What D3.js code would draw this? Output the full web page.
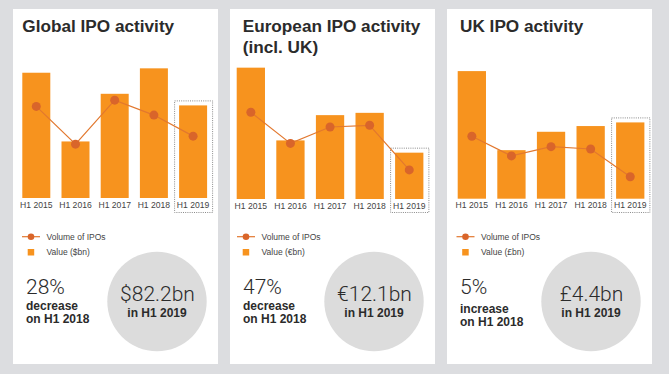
<!DOCTYPE html>
<html><head><meta charset="utf-8">
<script src="https://cdn.jsdelivr.net/npm/d3@7"></script>
<style>
html,body{margin:0;padding:0;background:#dcdde0;}
svg{display:block;}
</style></head>
<body>
<svg id="c" width="669" height="374"></svg>
<script>
// ---- data ----
const periods = ["H1 2015","H1 2016","H1 2017","H1 2018","H1 2019"];
const globalValue = [111.2, 50.2, 92.5, 115.1, 82.2];     // $bn
const globalVolume = [730, 429, 780, 661, 493];           // number of IPOs
const europeValue = [34.3, 15.3, 21.9, 22.5, 12.1];       // €bn
const europeVolume = [206, 132, 171, 175, 69];
const ukValue = [7.36, 2.8, 3.86, 4.19, 4.4];             // £bn
const ukVolume = [54, 37, 45, 43, 19];
const titles = [["Global IPO activity"], ["European IPO activity","(incl. UK)"], ["UK IPO activity"]];
const valueLabels = ["Value ($bn)", "Value (€bn)", "Value (£bn)"];
const changePct = ["28%", "47%", "5%"];
const changeWord = ["decrease", "decrease", "increase"];
const headline = ["$82.2bn", "€12.1bn", "£4.4bn"];

const panels = [
  {value: globalValue, volume: globalVolume, vMax: 122.5, volMax: 1100},
  {value: europeValue, volume: europeVolume, vMax: 36.3, volMax: 330},
  {value: ukValue, volume: ukVolume, vMax: 8.0, volMax: 120}
];
// layout
const layout = [
  {px: 13, bx0: 22.3, step: 39.2, base: 198, titleX: 22.3, legX: 22, textDy: 0},
  {px: 230, bx0: 236.7, step: 39.6, base: 199, titleX: 242.7, legX: 237, textDy: 0},
  {px: 447, bx0: 457.7, step: 39.6, base: 198.7, titleX: 460, legX: 456.5, textDy: 3}
];
const BAR = "#f7931e", LINE = "#e2782f", DOT = "#d9652a", TXT = "#2b2b2b", LBL = "#444";
const SANS = "Liberation Sans, Arial, sans-serif";
const svg = d3.select("#c");
svg.append("rect").attr("width",669).attr("height",374).attr("fill","#dcdde0");

panels.forEach((p, i) => {
  const L = layout[i];
  const g = svg.append("g");
  g.append("rect").attr("x", L.px).attr("y", 9).attr("width", 205).attr("height", 355).attr("fill", "#fff");
  // title
  titles[i].forEach((t, k) => {
    g.append("text").attr("x", L.titleX).attr("y", 32.3 + k*21)
      .attr("font-family", SANS).attr("font-weight", "bold")
      .attr("font-size", 17.2).attr("fill", TXT).text(t);
  });
  const pad = 0.2857;
  const x = d3.scaleBand().domain(periods)
    .range([L.bx0, L.bx0 + L.step*(periods.length - pad)]).paddingInner(pad).paddingOuter(0);
  const y = d3.scaleLinear().domain([0, p.vMax]).range([L.base, 60]);
  const yv = d3.scaleLinear().domain([0, p.volMax]).range([L.base, 60]);
  const bw = x.bandwidth();
  // highlight box around last period
  const last = periods[periods.length-1];
  const lastVal = p.value[p.value.length-1];
  g.append("rect").attr("x", x(last) - 4.5).attr("y", y(lastVal) - 4.5)
    .attr("width", bw + 10).attr("height", 212.5 - (y(lastVal) - 4.5))
    .attr("fill", "none").attr("stroke", "#8a8a8a").attr("stroke-width", 1).attr("stroke-dasharray", "1,1.2");
  g.selectAll(".bar").data(p.value).enter().append("rect")
    .attr("x", (d, j) => x(periods[j])).attr("width", bw)
    .attr("y", d => y(d)).attr("height", d => L.base - y(d)).attr("fill", BAR);
  // axis labels
  const ax = g.append("g").attr("transform", `translate(0,${L.base})`)
    .call(d3.axisBottom(x).tickSize(0).tickPadding(3.5));
  ax.select(".domain").remove();
  ax.selectAll("text").attr("font-family", SANS).attr("font-size", 8.6).attr("fill", LBL);
  // line
  const line = d3.line().x((d, j) => x(periods[j]) + bw/2).y(d => yv(d));
  g.append("path").datum(p.volume).attr("d", line).attr("fill", "none").attr("stroke", LINE).attr("stroke-width", 1.2);
  g.selectAll(".dot").data(p.volume).enter().append("circle")
    .attr("cx", (d, j) => x(periods[j]) + bw/2).attr("cy", d => yv(d)).attr("r", 4.5).attr("fill", DOT);
  // legend
  const lx = L.legX;
  g.append("line").attr("x1", lx).attr("x2", lx + 18).attr("y1", 236.7).attr("y2", 236.7).attr("stroke", LINE).attr("stroke-width", 1.2);
  g.append("circle").attr("cx", lx + 9).attr("cy", 236.7).attr("r", 3.3).attr("fill", DOT);
  g.append("rect").attr("x", lx + 5.7).attr("y", 249).attr("width", 6.5).attr("height", 6.5).attr("fill", BAR);
  g.append("text").attr("x", lx + 24.5).attr("y", 239.8).attr("font-family", SANS)
    .attr("font-size", 8.5).attr("fill", LBL).text("Volume of IPOs");
  g.append("text").attr("x", lx + 24.5).attr("y", 255).attr("font-family", SANS)
    .attr("font-size", 8.5).attr("fill", LBL).text(valueLabels[i]);
  // change text (one text block, three lines)
  const tx = L.px + 13;
  const ct = g.append("text").attr("x", tx).attr("y", 293.5).attr("fill", TXT);
  ct.append("tspan").attr("x", tx).attr("y", 293.5).attr("font-family", "Roboto, sans-serif").attr("font-weight", 300)
    .attr("font-size", 21).text(changePct[i]);
  ct.append("tspan").attr("x", tx).attr("y", 309.5 + L.textDy).attr("font-family", SANS)
    .attr("font-weight", "bold").attr("font-size", 12).text(changeWord[i]);
  ct.append("tspan").attr("x", tx).attr("y", 323 + L.textDy).attr("font-family", SANS)
    .attr("font-weight", "bold").attr("font-size", 12).text("on H1 2018");
  // circle
  const cx = L.px + 144;
  g.append("circle").attr("cx", cx).attr("cy", 301.5).attr("r", 49.7).attr("fill", "#dcdcdc");
  const hc = g.append("text").attr("text-anchor", "middle").attr("fill", TXT);
  hc.append("tspan").attr("x", cx + 0.5).attr("y", 301).attr("font-family", "Roboto, sans-serif")
    .attr("font-weight", 300).attr("font-size", 21).text(headline[i]);
  hc.append("tspan").attr("x", cx).attr("y", 316.7).attr("font-family", SANS)
    .attr("font-weight", "bold").attr("font-size", 12).text("in H1 2019");
});
</script>
</body></html>
